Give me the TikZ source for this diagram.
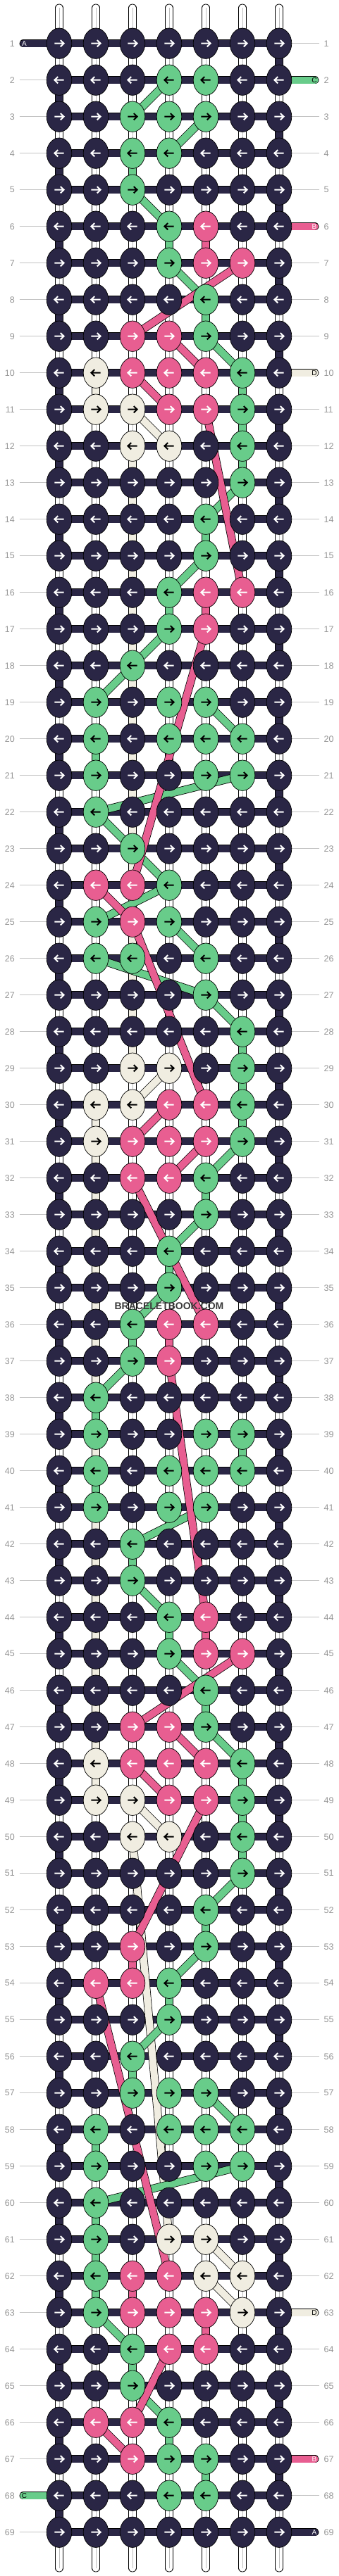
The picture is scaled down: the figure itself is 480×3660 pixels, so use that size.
\documentclass[tikz,border=0pt]{standalone}
\usepackage{fontspec}
\setmainfont{Liberation Sans}
\usetikzlibrary{shapes.geometric}
\definecolor{kd}{RGB}{42,38,69}
\definecolor{kg}{RGB}{104,204,138}
\definecolor{kp}{RGB}{232,94,145}
\definecolor{kc}{RGB}{240,237,225}
\colorlet{ad}{white}
\colorlet{ap}{white}
\colorlet{ag}{black}
\colorlet{ac}{black}
\definecolor{lbl}{RGB}{150,150,150}
\definecolor{lline}{RGB}{195,195,195}
\definecolor{rodc}{RGB}{190,190,190}
\definecolor{wmc}{RGB}{58,58,58}
\begin{document}
\begin{tikzpicture}[x=1pt,y=-1pt,
 strand/.style={draw=black, line width=0.75pt, double=#1, double distance=10pt},
 rodline/.style={draw=rodc, line width=0.8pt},
 lblline/.style={draw=lline, line width=0.9pt},
 knot/.style={ellipse, draw=black, line width=0.7pt, minimum width=35.6pt, minimum height=43.4pt, inner sep=0pt, fill=#1},
 arr/.style={draw=#1, line width=2pt},
 rowlbl/.style={font=\fontsize{12.5}{14}\selectfont, text=lbl, inner sep=0pt},
 stublbl/.style={font=\fontsize{10}{12}\selectfont, inner sep=0pt}]
\useasboundingbox (0,0) rectangle (480,3660);
\fill[white] (0,0) rectangle (480,3660);
% coordinates
\foreach \r in {1,...,69}{
  \foreach \c in {1,...,7}{\coordinate (k-\r-\c) at ({32+52*\c},{9.7+52*\r});}
  \coordinate (gl-\r) at (27.5,{9.7+52*\r});
  \coordinate (gr-\r) at (452.5,{9.7+52*\r});
}
% label guide lines
\foreach \r in {1,...,69}{
  \draw[lblline] (gl-\r) -- (k-\r-1);
  \draw[lblline] (k-\r-7) -- (gr-\r);
}
% vertical rods
\foreach \c in {1,...,7}{
  \coordinate (rt-\c) at ({32+52*\c},11.3);
  \coordinate (rb-\c) at ({32+52*\c},3648.7);
  \draw[strand=white, line cap=round] (rt-\c) -- (rb-\c);
  \draw[rodline] (rt-\c) -- (rb-\c);
}
% horizontal bars
\foreach \r in {1,...,69}{\draw[strand=kd] (k-\r-1) -- (k-\r-7);}
% edge turns
\foreach \r in {1,...,68}{
  \pgfmathtruncatemacro{\nr}{\r+1}
  \pgfmathtruncatemacro{\ec}{1+6*mod(\r,2)}
  \draw[strand=kd] (k-\r-\ec) -- (k-\nr-\ec);
}
% stubs
\coordinate (sA1) at (33.3,61.7);
\coordinate (sC2) at (446.7,113.7);
\coordinate (sB6) at (446.7,321.7);
\coordinate (sD10) at (446.7,529.7);
\coordinate (sD63) at (446.7,3285.7);
\coordinate (sB67) at (446.7,3493.7);
\coordinate (sC68) at (33.3,3545.7);
\coordinate (sA69) at (446.7,3597.7);
\draw[strand=kd, line cap=round] (sA1) -- (k-1-1);
\draw[strand=kg, line cap=round] (k-2-7) -- (sC2);
\draw[strand=kp, line cap=round] (k-6-7) -- (sB6);
\draw[strand=kc, line cap=round] (k-10-7) -- (sD10);
\draw[strand=kc, line cap=round] (k-63-7) -- (sD63);
\draw[strand=kp, line cap=round] (k-67-7) -- (sB67);
\draw[strand=kg, line cap=round] (sC68) -- (k-68-1);
\draw[strand=kd, line cap=round] (k-69-7) -- (sA69);
% cream strand
\foreach \ra/\ca/\rb/\cb in {10/2/11/2, 11/3/12/4, 12/3/29/3, 29/4/30/3, 30/2/49/2, 49/3/50/4, 50/3/61/4, 61/5/62/6, 62/5/63/6}
  {\draw[strand=kc] (k-\ra-\ca) -- (k-\rb-\cb);}
% green strand
\foreach \ra/\ca/\rb/\cb in {2/4/3/3, 3/5/4/4, 4/3/5/3, 5/3/6/4, 6/4/7/4, 7/4/8/5, 8/5/9/5, 9/5/10/6, 10/6/13/6, 13/6/14/5, 14/5/15/5, 15/5/16/4, 16/4/17/4, 17/4/18/3, 18/3/19/2, 19/5/20/6, 20/2/21/2, 21/6/22/2, 22/2/23/3, 23/3/24/4, 24/4/25/2, 25/4/26/5, 26/2/27/5, 27/5/28/6, 28/6/31/6, 31/6/32/5, 32/5/33/5, 33/5/34/4, 34/4/35/4, 35/4/36/3, 36/3/37/3, 37/3/38/2, 38/2/39/2, 39/6/40/6, 40/2/41/2, 41/5/42/3, 42/3/43/3, 43/3/44/4, 44/4/45/4, 45/4/46/5, 46/5/47/5, 47/5/48/6, 48/6/51/6, 51/6/52/5, 52/5/53/5, 53/5/54/4, 54/4/55/4, 55/4/56/3, 56/3/57/3, 57/5/58/6, 58/2/59/2, 59/6/60/2, 60/2/63/2, 63/2/64/3, 64/3/65/3, 65/3/66/4, 66/4/67/4, 67/5/68/5}
  {\draw[strand=kg] (k-\ra-\ca) -- (k-\rb-\cb);}
% pink strand
\foreach \ra/\ca/\rb/\cb in {6/5/7/5, 7/6/9/3, 9/4/10/5, 10/3/11/4, 11/5/16/6, 16/5/17/5, 17/5/24/3, 24/2/25/3, 25/3/30/5, 30/4/31/3, 31/5/32/4, 32/3/36/5, 36/4/37/4, 37/4/44/5, 44/5/45/5, 45/6/47/3, 47/4/48/5, 48/3/49/4, 49/5/53/3, 53/3/54/3, 54/2/62/4, 62/3/63/3, 63/5/64/5, 64/4/66/3, 66/2/67/3}
  {\draw[strand=kp] (k-\ra-\ca) -- (k-\rb-\cb);}
% knots
\foreach \r/\s in {
1/{d,d,d,d,d,d,d}, 2/{d,d,d,g,g,d,d}, 3/{d,d,g,g,g,d,d}, 4/{d,d,g,g,d,d,d}, 5/{d,d,g,d,d,d,d},
6/{d,d,d,g,p,d,d}, 7/{d,d,d,g,p,p,d}, 8/{d,d,d,d,g,d,d}, 9/{d,d,p,p,g,d,d}, 10/{d,c,p,p,p,g,d},
11/{d,c,c,p,p,g,d}, 12/{d,d,c,c,d,g,d}, 13/{d,d,d,d,d,g,d}, 14/{d,d,d,d,g,d,d}, 15/{d,d,d,d,g,d,d},
16/{d,d,d,g,p,p,d}, 17/{d,d,d,g,p,d,d}, 18/{d,d,g,d,d,d,d}, 19/{d,g,d,g,g,d,d}, 20/{d,g,d,g,g,g,d},
21/{d,g,d,d,g,g,d}, 22/{d,g,d,d,d,d,d}, 23/{d,d,g,d,d,d,d}, 24/{d,p,p,g,d,d,d}, 25/{d,g,p,g,d,d,d},
26/{d,g,g,d,g,d,d}, 27/{d,d,d,d,g,d,d}, 28/{d,d,d,d,d,g,d}, 29/{d,d,c,c,d,g,d}, 30/{d,c,c,p,p,g,d},
31/{d,c,p,p,p,g,d}, 32/{d,d,p,p,g,d,d}, 33/{d,d,d,d,g,d,d}, 34/{d,d,d,g,d,d,d}, 35/{d,d,d,g,d,d,d},
36/{d,d,g,p,p,d,d}, 37/{d,d,g,p,d,d,d}, 38/{d,g,d,d,d,d,d}, 39/{d,g,d,d,g,g,d}, 40/{d,g,d,g,g,g,d},
41/{d,g,d,g,g,d,d}, 42/{d,d,g,d,d,d,d}, 43/{d,d,g,d,d,d,d}, 44/{d,d,d,g,p,d,d}, 45/{d,d,d,g,p,p,d},
46/{d,d,d,d,g,d,d}, 47/{d,d,p,p,g,d,d}, 48/{d,c,p,p,p,g,d}, 49/{d,c,c,p,p,g,d}, 50/{d,d,c,c,d,g,d},
51/{d,d,d,d,d,g,d}, 52/{d,d,d,d,g,d,d}, 53/{d,d,p,d,g,d,d}, 54/{d,p,p,g,d,d,d}, 55/{d,d,d,g,d,d,d},
56/{d,d,g,d,d,d,d}, 57/{d,d,g,g,g,d,d}, 58/{d,g,d,g,g,g,d}, 59/{d,g,d,d,g,g,d}, 60/{d,g,d,d,d,d,d},
61/{d,g,d,c,c,d,d}, 62/{d,g,p,p,c,c,d}, 63/{d,g,p,p,p,c,d}, 64/{d,d,g,p,p,d,d}, 65/{d,d,g,d,d,d,d},
66/{d,p,p,g,d,d,d}, 67/{d,d,p,g,g,d,d}, 68/{d,d,d,g,g,d,d}, 69/{d,d,d,d,d,d,d}}{
  \pgfmathtruncatemacro{\dir}{1-2*mod(\r+1,2)}
  \foreach \k [count=\c] in \s {
    \node[knot=k\k] (n-\r-\c) at (k-\r-\c) {};
    \begin{scope}[shift={(k-\r-\c)}, xscale=\dir]
      \draw[arr=a\k] (-6.7,0) -- (6,0) (1.8,-4.6) -- (6.6,0) -- (1.8,4.6);
    \end{scope}
  }
}
% stub letters
\node[stublbl, text=white] (tA1) at (34.5,61.7) {A};
\node[stublbl, text=black] (tC2) at (446,113.7) {C};
\node[stublbl, text=white] (tB6) at (446,321.7) {B};
\node[stublbl, text=black] (tD10) at (446,529.7) {D};
\node[stublbl, text=black] (tD63) at (446,3285.7) {D};
\node[stublbl, text=white] (tB67) at (446,3493.7) {B};
\node[stublbl, text=black] (tC68) at (34.5,3545.7) {C};
\node[stublbl, text=white] (tA69) at (446,3597.7) {A};
% row labels
\foreach \r in {1,...,69}{
  \node[rowlbl, anchor=east] (ll-\r) at (21,{9.7+52*\r}) {\r};
  \node[rowlbl, anchor=west] (lr-\r) at (459.5,{9.7+52*\r}) {\r};
}
% watermark
\node[font=\bfseries\fontsize{14}{16}\selectfont, text=wmc, inner sep=0pt] (wm) at (240,1855.7) {BRACELETBOOK.COM};
\end{tikzpicture}
\end{document}
